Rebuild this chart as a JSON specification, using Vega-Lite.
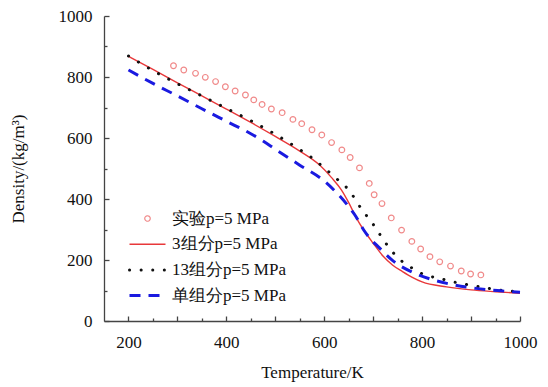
{
  "$schema": "https://vega.github.io/schema/vega-lite/v6.json",
  "width": 416,
  "height": 305,
  "autosize": {"type": "none"},
  "padding": {"left": 104, "top": 16, "right": 28, "bottom": 66},
  "background": "white",
  "config": {
    "view": {"stroke": null},
    "font": "Liberation Serif",
    "axis": {
      "grid": false,
      "labelFont": "Liberation Serif",
      "titleFont": "Liberation Serif",
      "labelFontSize": 17,
      "titleFontSize": 17,
      "titleFontWeight": "normal",
      "labelColor": "#111",
      "titleColor": "#111",
      "domainColor": "#444",
      "tickColor": "#444",
      "domainWidth": 1.3,
      "tickWidth": 1.3
    }
  },
  "data": {
    "values": [
      {"s": "实验p=5 MPa", "T": 292, "rho": 837},
      {"s": "实验p=5 MPa", "T": 313, "rho": 823},
      {"s": "实验p=5 MPa", "T": 337, "rho": 812},
      {"s": "实验p=5 MPa", "T": 357, "rho": 799},
      {"s": "实验p=5 MPa", "T": 378, "rho": 785},
      {"s": "实验p=5 MPa", "T": 398, "rho": 768},
      {"s": "实验p=5 MPa", "T": 418, "rho": 754},
      {"s": "实验p=5 MPa", "T": 439, "rho": 741},
      {"s": "实验p=5 MPa", "T": 456, "rho": 725},
      {"s": "实验p=5 MPa", "T": 473, "rho": 710},
      {"s": "实验p=5 MPa", "T": 492, "rho": 695},
      {"s": "实验p=5 MPa", "T": 514, "rho": 683},
      {"s": "实验p=5 MPa", "T": 536, "rho": 661},
      {"s": "实验p=5 MPa", "T": 554, "rho": 647},
      {"s": "实验p=5 MPa", "T": 575, "rho": 627},
      {"s": "实验p=5 MPa", "T": 595, "rho": 610},
      {"s": "实验p=5 MPa", "T": 615, "rho": 585},
      {"s": "实验p=5 MPa", "T": 636, "rho": 561},
      {"s": "实验p=5 MPa", "T": 653, "rho": 536},
      {"s": "实验p=5 MPa", "T": 672, "rho": 502},
      {"s": "实验p=5 MPa", "T": 692, "rho": 451},
      {"s": "实验p=5 MPa", "T": 702, "rho": 414},
      {"s": "实验p=5 MPa", "T": 718, "rho": 385},
      {"s": "实验p=5 MPa", "T": 737, "rho": 338},
      {"s": "实验p=5 MPa", "T": 758, "rho": 298},
      {"s": "实验p=5 MPa", "T": 779, "rho": 261},
      {"s": "实验p=5 MPa", "T": 797, "rho": 236},
      {"s": "实验p=5 MPa", "T": 816, "rho": 211},
      {"s": "实验p=5 MPa", "T": 836, "rho": 194},
      {"s": "实验p=5 MPa", "T": 858, "rho": 180},
      {"s": "实验p=5 MPa", "T": 880, "rho": 164},
      {"s": "实验p=5 MPa", "T": 899, "rho": 154},
      {"s": "实验p=5 MPa", "T": 920, "rho": 151},

      {"s": "3组分p=5 MPa", "T": 200, "rho": 868},
      {"s": "3组分p=5 MPa", "T": 250, "rho": 825},
      {"s": "3组分p=5 MPa", "T": 300, "rho": 781},
      {"s": "3组分p=5 MPa", "T": 350, "rho": 738},
      {"s": "3组分p=5 MPa", "T": 400, "rho": 695},
      {"s": "3组分p=5 MPa", "T": 450, "rho": 651},
      {"s": "3组分p=5 MPa", "T": 500, "rho": 605},
      {"s": "3组分p=5 MPa", "T": 550, "rho": 557},
      {"s": "3组分p=5 MPa", "T": 590, "rho": 512},
      {"s": "3组分p=5 MPa", "T": 615, "rho": 470},
      {"s": "3组分p=5 MPa", "T": 635, "rho": 430},
      {"s": "3组分p=5 MPa", "T": 650, "rho": 388},
      {"s": "3组分p=5 MPa", "T": 665, "rho": 340},
      {"s": "3组分p=5 MPa", "T": 680, "rho": 300},
      {"s": "3组分p=5 MPa", "T": 700, "rho": 255},
      {"s": "3组分p=5 MPa", "T": 720, "rho": 213},
      {"s": "3组分p=5 MPa", "T": 740, "rho": 183},
      {"s": "3组分p=5 MPa", "T": 760, "rho": 162},
      {"s": "3组分p=5 MPa", "T": 780, "rho": 143},
      {"s": "3组分p=5 MPa", "T": 800, "rho": 128},
      {"s": "3组分p=5 MPa", "T": 850, "rho": 112},
      {"s": "3组分p=5 MPa", "T": 900, "rho": 102},
      {"s": "3组分p=5 MPa", "T": 950, "rho": 96},
      {"s": "3组分p=5 MPa", "T": 1000, "rho": 91},

      {"s": "13组分p=5 MPa", "T": 200, "rho": 869},
      {"s": "13组分p=5 MPa", "T": 250, "rho": 821},
      {"s": "13组分p=5 MPa", "T": 300, "rho": 778},
      {"s": "13组分p=5 MPa", "T": 350, "rho": 738},
      {"s": "13组分p=5 MPa", "T": 400, "rho": 697},
      {"s": "13组分p=5 MPa", "T": 450, "rho": 657},
      {"s": "13组分p=5 MPa", "T": 500, "rho": 612},
      {"s": "13组分p=5 MPa", "T": 550, "rho": 562},
      {"s": "13组分p=5 MPa", "T": 575, "rho": 535},
      {"s": "13组分p=5 MPa", "T": 600, "rho": 502},
      {"s": "13组分p=5 MPa", "T": 625, "rho": 467},
      {"s": "13组分p=5 MPa", "T": 650, "rho": 430},
      {"s": "13组分p=5 MPa", "T": 675, "rho": 370},
      {"s": "13组分p=5 MPa", "T": 700, "rho": 317},
      {"s": "13组分p=5 MPa", "T": 725, "rho": 257},
      {"s": "13组分p=5 MPa", "T": 750, "rho": 208},
      {"s": "13组分p=5 MPa", "T": 775, "rho": 178},
      {"s": "13组分p=5 MPa", "T": 800, "rho": 155},
      {"s": "13组分p=5 MPa", "T": 825, "rho": 143},
      {"s": "13组分p=5 MPa", "T": 850, "rho": 134},
      {"s": "13组分p=5 MPa", "T": 875, "rho": 124},
      {"s": "13组分p=5 MPa", "T": 900, "rho": 117},
      {"s": "13组分p=5 MPa", "T": 925, "rho": 110},
      {"s": "13组分p=5 MPa", "T": 950, "rho": 103},
      {"s": "13组分p=5 MPa", "T": 975, "rho": 99},
      {"s": "13组分p=5 MPa", "T": 1000, "rho": 96},

      {"s": "单组分p=5 MPa", "T": 200, "rho": 823},
      {"s": "单组分p=5 MPa", "T": 250, "rho": 779},
      {"s": "单组分p=5 MPa", "T": 300, "rho": 738},
      {"s": "单组分p=5 MPa", "T": 350, "rho": 696},
      {"s": "单组分p=5 MPa", "T": 400, "rho": 655},
      {"s": "单组分p=5 MPa", "T": 450, "rho": 614},
      {"s": "单组分p=5 MPa", "T": 475, "rho": 590},
      {"s": "单组分p=5 MPa", "T": 500, "rho": 563},
      {"s": "单组分p=5 MPa", "T": 550, "rho": 511},
      {"s": "单组分p=5 MPa", "T": 600, "rho": 459},
      {"s": "单组分p=5 MPa", "T": 625, "rho": 421},
      {"s": "单组分p=5 MPa", "T": 650, "rho": 375},
      {"s": "单组分p=5 MPa", "T": 665, "rho": 342},
      {"s": "单组分p=5 MPa", "T": 680, "rho": 300},
      {"s": "单组分p=5 MPa", "T": 695, "rho": 268},
      {"s": "单组分p=5 MPa", "T": 710, "rho": 244},
      {"s": "单组分p=5 MPa", "T": 740, "rho": 198},
      {"s": "单组分p=5 MPa", "T": 780, "rho": 160},
      {"s": "单组分p=5 MPa", "T": 820, "rho": 136},
      {"s": "单组分p=5 MPa", "T": 860, "rho": 120},
      {"s": "单组分p=5 MPa", "T": 910, "rho": 107},
      {"s": "单组分p=5 MPa", "T": 960, "rho": 99},
      {"s": "单组分p=5 MPa", "T": 1000, "rho": 94}
    ]
  },
  "encoding": {
    "color": {
      "field": "s", "type": "nominal",
      "scale": {
        "domain": ["实验p=5 MPa", "3组分p=5 MPa", "13组分p=5 MPa", "单组分p=5 MPa"],
        "range": ["#f08a8a", "#e8383a", "#111111", "#1a1ae0"]
      },
      "legend": {
        "title": null,
        "orient": "none",
        "legendX": 35,
        "legendY": 194,
        "padding": 0,
        "symbolSize": 324,
        "labelOffset": 16,
        "rowPadding": 7.7,
        "labelFont": "Liberation Serif",
        "labelFontSize": 17,
        "labelColor": "#111",
        "labelLimit": 300,
        "encode": {
          "symbols": {
            "update": {
              "shape": {"signal": "datum.value === '实验p=5 MPa' ? 'circle' : 'stroke'"},
              "size": {"signal": "datum.value === '实验p=5 MPa' ? 30 : 1296"},
              "fill": {"value": "transparent"},
              "stroke": {"scale": "color", "field": "value"},
              "strokeWidth": {"signal": "datum.value === '实验p=5 MPa' ? 1.2 : datum.value === '3组分p=5 MPa' ? 1.4 : 3"},
              "strokeDash": {"signal": "datum.value === '13组分p=5 MPa' ? [0.1, 11.5] : datum.value === '单组分p=5 MPa' ? [11, 8] : [1, 0]"},
              "strokeCap": {"signal": "datum.value === '13组分p=5 MPa' ? 'round' : 'butt'"},
              "opacity": {"value": 1}
            }
          }
        }
      }
    }
  },
  "resolve": {"axis": {"x": "independent", "y": "independent"}},
  "layer": [
    {
      "transform": [{"filter": "datum.s === '实验p=5 MPa'"}],
      "mark": {"type": "point", "shape": "circle", "filled": false, "size": 32, "strokeWidth": 1.2, "opacity": 1},
      "encoding": {
        "x": {
          "field": "T", "type": "quantitative",
          "scale": {"domain": [150, 1000], "nice": false, "zero": false},
          "axis": {
            "orient": "bottom",
            "title": "Temperature/K",
            "values": [200, 300, 400, 500, 600, 700, 800, 900, 1000],
            "format": "d",
            "labelExpr": "datum.value % 200 === 0 ? datum.label : ''",
            "tickSize": -5,
            "labelPadding": 18,
            "titlePadding": 14,
            "labelFlush": false,
            "labelOverlap": false
          }
        },
        "y": {
          "field": "rho", "type": "quantitative",
          "scale": {"domain": [0, 1000], "nice": false},
          "axis": {
            "orient": "left",
            "title": "Density/(kg/m³)",
            "values": [0, 200, 400, 600, 800, 1000],
            "format": "d",
            "tickSize": -5,
            "labelPadding": 17,
            "titlePadding": 31,
            "labelFlush": false,
            "labelOverlap": false
          }
        }
      }
    },
    {
      "transform": [{"filter": "datum.s === '3组分p=5 MPa'"}],
      "mark": {"type": "line", "interpolate": "monotone", "strokeWidth": 1.4},
      "encoding": {
        "x": {
          "field": "T", "type": "quantitative",
          "scale": {"domain": [150, 1000], "nice": false, "zero": false},
          "axis": {
            "orient": "bottom",
            "title": null,
            "values": [250, 350, 450, 550, 650, 750, 850, 950],
            "labels": false,
            "domain": false,
            "tickSize": -3
          }
        },
        "y": {
          "field": "rho", "type": "quantitative",
          "scale": {"domain": [0, 1000], "nice": false},
          "axis": {
            "orient": "left",
            "title": null,
            "values": [100, 300, 500, 700, 900],
            "labels": false,
            "domain": false,
            "tickSize": -3
          }
        }
      }
    },
    {
      "transform": [{"filter": "datum.s === '13组分p=5 MPa'"}],
      "mark": {"type": "line", "interpolate": "monotone", "strokeWidth": 3, "strokeDash": [0.1, 11.5], "strokeCap": "round"},
      "encoding": {
        "x": {"field": "T", "type": "quantitative", "scale": {"domain": [150, 1000], "nice": false, "zero": false}, "axis": null},
        "y": {"field": "rho", "type": "quantitative", "scale": {"domain": [0, 1000], "nice": false}, "axis": null}
      }
    },
    {
      "transform": [{"filter": "datum.s === '单组分p=5 MPa'"}],
      "mark": {"type": "line", "interpolate": "monotone", "strokeWidth": 3, "strokeDash": [11, 8]},
      "encoding": {
        "x": {"field": "T", "type": "quantitative", "scale": {"domain": [150, 1000], "nice": false, "zero": false}, "axis": null},
        "y": {"field": "rho", "type": "quantitative", "scale": {"domain": [0, 1000], "nice": false}, "axis": null}
      }
    }
  ]
}
